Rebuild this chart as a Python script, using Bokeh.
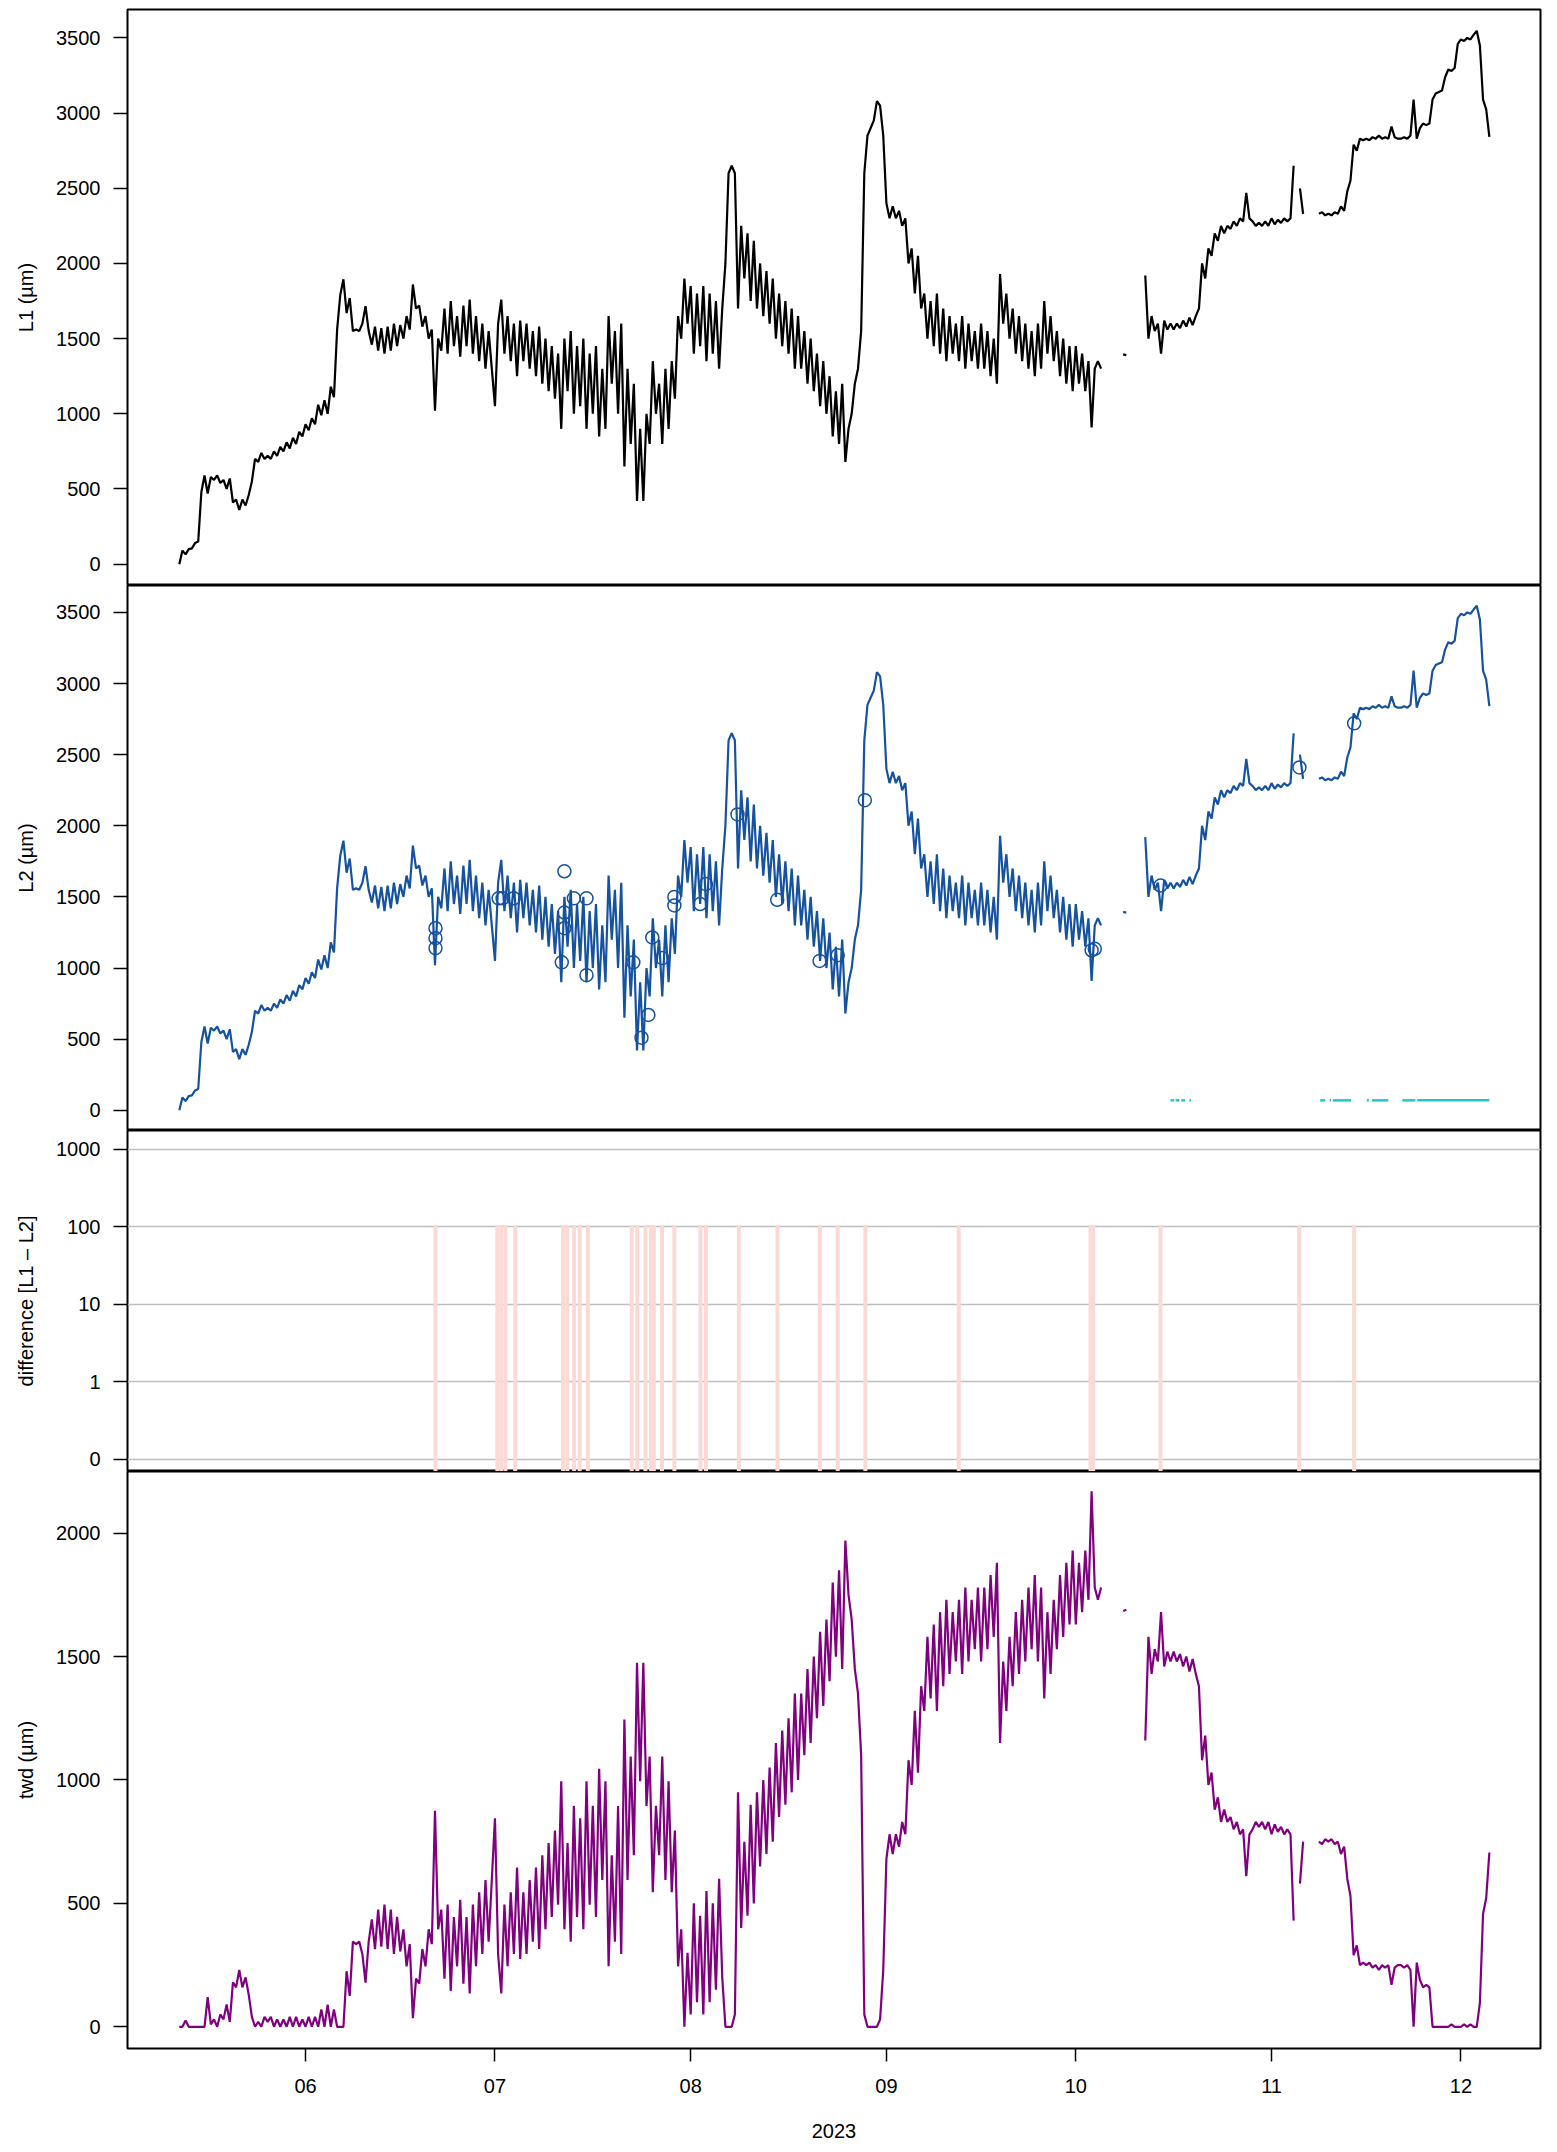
import numpy as np
import pandas as pd
from bokeh.plotting import figure
from bokeh.layouts import column
from bokeh.models import Range1d, FixedTicker
from bokeh.embed import file_html
from bokeh.resources import INLINE

nan = float("nan")

# ---- stem radius series L1 (µm), two readings per day (00h, 12h) ----
L1_may = [0, 90, 65, 100, 105, 140, 150, 480, 590, 470, 580, 560, 590, 540, 560, 500,
          570, 410, 430, 360, 430, 390, 460, 550, 700, 680, 740, 700, 720, 700, 750, 720,
          780, 750, 810, 770, 840, 800, 880, 850]
L1_jun = [930, 890, 970, 930, 1060, 990, 1090, 1000, 1180, 1110, 1560, 1790, 1895, 1670,
          1770, 1550, 1560, 1550, 1600, 1716, 1550, 1460, 1580, 1420, 1570, 1400, 1580, 1420,
          1600, 1450, 1590, 1500, 1650, 1560, 1860, 1700, 1720, 1580, 1650, 1500, 1560, 1020,
          1500, 1420, 1700, 1400, 1750, 1450, 1650, 1380, 1720, 1450, 1760, 1400, 1650, 1350,
          1600, 1300, 1550, 1300]
L1_jul = [1050, 1600, 1760, 1400, 1650, 1350, 1600, 1250, 1620, 1350, 1600, 1300, 1550, 1250,
          1580, 1200, 1500, 1150, 1450, 1100, 1400, 900, 1500, 1150, 1550, 1000, 1450, 1050,
          1500, 900, 1400, 1000, 1450, 850, 1300, 900, 1650, 1200, 1550, 1000, 1600, 650,
          1300, 800, 1200, 420, 900, 420, 1000, 800, 1350, 1000, 1200, 800, 1300, 900,
          1350, 1100, 1650, 1500, 1900, 1600]
L1_aug = [1850, 1400, 1800, 1450, 1850, 1350, 1800, 1400, 1750, 1300, 1700, 2000, 2600, 2650,
          2600, 1700, 2250, 1900, 2200, 1750, 2150, 1700, 2000, 1650, 1950, 1600, 1900, 1500,
          1800, 1450, 1750, 1400, 1700, 1300, 1650, 1300, 1550, 1200, 1500, 1150, 1400, 1050,
          1350, 1000, 1250, 850, 1150, 800, 1200, 680, 900, 1000, 1200, 1300, 1550, 2600,
          2850, 2900, 2950, 3080, 3050, 2850]
L1_sep = [2400, 2300, 2380, 2300, 2350, 2250, 2300, 2000, 2100, 1800, 2050, 1700, 1800, 1500,
          1750, 1450, 1800, 1400, 1700, 1350, 1650, 1400, 1600, 1350, 1650, 1300, 1600, 1350,
          1550, 1300, 1600, 1300, 1550, 1250, 1500, 1200, 1930, 1600, 1800, 1500, 1700, 1400,
          1650, 1350, 1600, 1300, 1550, 1250, 1600, 1300, 1750, 1400, 1650, 1350, 1550, 1250,
          1500, 1200, 1450, 1150]
L1_oct = [1450, 1200, 1400, 1150, 1350, 910, 1300, 1350, 1300, nan, nan, nan, nan, nan,
          nan, 1395, 1390, nan, nan, nan, nan, nan, 1920, 1500, 1650, 1550, 1600, 1400,
          1620, 1560, 1600, 1560, 1600, 1570, 1620, 1580, 1640, 1590, 1650, 1700, 2000, 1900,
          2100, 2050, 2200, 2150, 2250, 2200, 2250, 2230, 2280, 2250, 2300, 2280, 2470, 2300,
          2280, 2250, 2270, 2250, 2280, 2250]
L1_nov = [2300, 2260, 2290, 2270, 2300, 2280, 2300, 2650, nan, 2500, 2330, nan, nan, nan,
          nan, 2330, 2340, 2320, 2330, 2320, 2340, 2330, 2380, 2350, 2480, 2550, 2790, 2750,
          2830, 2820, 2830, 2820, 2840, 2830, 2850, 2830, 2840, 2830, 2910, 2840, 2830, 2830,
          2840, 2830, 2850, 3090, 2830, 2900, 2930, 2920, 2930, 3090, 3130, 3140, 3150, 3240,
          3290, 3280, 3300, 3460]
L1_dec = [3490, 3480, 3500, 3490, 3520, 3547, 3450, 3090, 3025, 2841]

L1 = L1_may + L1_jun + L1_jul + L1_aug + L1_sep + L1_oct + L1_nov + L1_dec
L2 = list(L1)  # second series follows the same trace
times = pd.date_range("2023-05-12 00:00", periods=len(L1), freq="12h")

# tree water deficit: distance below the running maximum of L1
s1 = pd.Series(L1, index=times, dtype=float)
twd = (s1.cummax() - s1).tolist()

# ---- flagged points in L2 ----
flag_times = ["2023-06-21 14:00", "2023-06-21 14:00", "2023-06-21 14:00",
              "2023-07-01 14:00", "2023-07-02 05:00", "2023-07-03 23:00",
              "2023-07-11 14:00", "2023-07-12 00:00", "2023-07-12 00:00", "2023-07-12 00:00",
              "2023-07-13 12:00", "2023-07-15 12:00", "2023-07-15 12:00",
              "2023-07-22 22:00", "2023-07-24 05:00", "2023-07-25 07:00", "2023-07-25 22:00",
              "2023-07-27 12:00", "2023-07-29 10:00", "2023-07-29 10:00",
              "2023-08-02 12:00", "2023-08-03 10:00", "2023-08-08 10:00", "2023-08-14 17:00",
              "2023-08-21 10:00", "2023-08-24 07:00", "2023-08-28 14:00",
              "2023-10-03 12:00", "2023-10-04 00:00", "2023-10-14 10:00",
              "2023-11-05 10:00", "2023-11-14 02:00"]
flag_values = [1280, 1210, 1140, 1490, 1490, 1490, 1040, 1680, 1390, 1280, 1490, 1490, 950,
               1040, 510, 670, 1215, 1070, 1500, 1440, 1450, 1590, 2080, 1480, 1050, 1090, 2180,
               1125, 1135, 1580, 2410, 2720]

# ---- cyan marker periods near the bottom of L2 panel ----
cyan_start = ["2023-10-16 00:00", "2023-10-16 19:00", "2023-10-17 17:00", "2023-10-19 00:00",
              "2023-11-08 17:00", "2023-11-10 05:00", "2023-11-10 17:00",
              "2023-11-16 02:00", "2023-11-16 22:00", "2023-11-21 17:00", "2023-11-24 02:00"]
cyan_end = ["2023-10-16 14:00", "2023-10-17 10:00", "2023-10-18 07:00", "2023-10-19 06:00",
            "2023-11-09 12:00", "2023-11-10 10:00", "2023-11-13 14:00",
            "2023-11-16 10:00", "2023-11-19 12:00", "2023-11-23 19:00", "2023-12-05 12:00"]
cyan_level = [70] * len(cyan_start)

# ---- difference L1 - L2 events ----
diff_times = ["2023-06-21 14:00", "2023-07-01 09:00", "2023-07-02 00:00", "2023-07-02 16:00",
              "2023-07-04 05:00", "2023-07-11 19:00", "2023-07-12 11:00", "2023-07-13 13:00",
              "2023-07-14 10:00", "2023-07-15 17:00", "2023-07-22 16:00", "2023-07-23 13:00",
              "2023-07-24 20:00", "2023-07-25 17:00", "2023-07-26 04:00", "2023-07-27 11:00",
              "2023-07-29 10:00", "2023-08-02 13:00", "2023-08-03 10:00", "2023-08-08 15:00",
              "2023-08-14 18:00", "2023-08-21 11:00", "2023-08-24 07:00", "2023-08-28 16:00",
              "2023-09-12 11:00", "2023-10-03 08:00", "2023-10-03 18:00", "2023-10-14 10:00",
              "2023-11-05 09:00", "2023-11-14 02:00"]
diff_values = [105, 105, 105, 105, 105, 105, 105, 105, 105, 105, 105, 105, 105, 105, 105,
               105, 105, 105, 105, 105, 105, 105, 105, 105, 105, 105, 105, 105, 105, 105]

diff_tick_values = [0, 1, 10, 100, 1000]
diff_tick_labels = ["0", "1", "10", "100", "1000"]

month_ticks = ["2023-06-01", "2023-07-01", "2023-08-01", "2023-09-01",
               "2023-10-01", "2023-11-01", "2023-12-01"]
month_labels = ["06", "07", "08", "09", "10", "11", "12"]

L_ticks = [0, 500, 1000, 1500, 2000, 2500, 3000, 3500]
twd_ticks = [0, 500, 1000, 1500, 2000]

# ---------------- styling ----------------
FONT = "Liberation Sans"
FS = "20px"
BLUE = "#1552A0"
PURPLE = "#800080"
CYAN = "#22C7CA"
PINK = "#FBDAD6"
GRIDC = "#BEBEBE"

def pseudo_log(v):
    return 0.0 if v <= 0 else np.log10(v) + 1.0

xr = Range1d(start=pd.Timestamp("2023-05-03 19:12"), end=pd.Timestamp("2023-12-13 14:24"))

def make_fig(frame_h, yr, top=0, bottom=0, with_x=False):
    p = figure(frame_width=1413, frame_height=frame_h, x_range=xr, y_range=yr,
               x_axis_type="datetime", x_axis_location="below" if with_x else None,
               output_backend="svg", toolbar_location=None,
               min_border_left=127, min_border_right=9,
               min_border_top=top, min_border_bottom=bottom)
    p.grid.visible = False
    p.outline_line_color = "black"
    p.outline_line_width = 2
    p.background_fill_color = "white"
    p.border_fill_color = "white"
    ax = p.yaxis[0]
    ax.axis_line_color = None
    ax.major_tick_line_width = 1.5
    ax.major_tick_line_color = "black"
    ax.major_tick_out = 14
    ax.major_tick_in = 0
    ax.minor_tick_line_color = None
    ax.major_label_standoff = 13
    ax.major_label_text_font = FONT
    ax.major_label_text_font_size = FS
    ax.major_label_text_color = "black"
    ax.axis_label_text_font = FONT
    ax.axis_label_text_font_size = FS
    ax.axis_label_text_font_style = "normal"
    ax.axis_label_text_color = "black"
    ax.axis_label_standoff = 16
    return p

# Panel 1: L1
p1 = make_fig(576, Range1d(-142, 3689), top=9)
p1.yaxis.ticker = FixedTicker(ticks=L_ticks)
p1.yaxis.axis_label = "L1 (µm)"
p1.line(times, L1, line_color="black", line_width=2.2)

# Panel 2: L2
p2 = make_fig(545, Range1d(-142, 3689))
p2.yaxis.ticker = FixedTicker(ticks=L_ticks)
p2.yaxis.axis_label = "L2 (µm)"
p2.line(times, L2, line_color=BLUE, line_width=2.2)
p2.scatter(pd.to_datetime(flag_times), flag_values, marker="circle", size=13,
           fill_color=None, line_color=BLUE, line_width=1.5)
p2.segment(x0=pd.to_datetime(cyan_start), y0=cyan_level, x1=pd.to_datetime(cyan_end),
           y1=cyan_level, line_color=CYAN, line_width=2.5)

# Panel 3: difference
yr3 = Range1d(-0.16, 4.24)
p3 = make_fig(341, yr3)
tick_pos = [pseudo_log(v) for v in diff_tick_values]
p3.yaxis.ticker = FixedTicker(ticks=tick_pos)
p3.yaxis.major_label_overrides = {tp: lab for tp, lab in zip(tick_pos, diff_tick_labels)}
p3.yaxis.axis_label = "difference [L1 \u2013 L2]"
p3.ygrid.visible = True
p3.ygrid.ticker = FixedTicker(ticks=tick_pos)
p3.ygrid.grid_line_color = GRIDC
p3.ygrid.grid_line_width = 1.5
dt = pd.to_datetime(diff_times)
p3.segment(x0=dt, y0=[yr3.start] * len(dt), x1=dt, y1=[pseudo_log(v) for v in diff_values],
           line_color=PINK, line_width=4)

# Panel 4: twd
p4 = make_fig(577, Range1d(-88, 2250), bottom=104, with_x=True)
p4.yaxis.ticker = FixedTicker(ticks=twd_ticks)
p4.yaxis.axis_label = "twd (µm)"
p4.line(times, twd, line_color=PURPLE, line_width=2.2)

mt = [pd.Timestamp(m).value / 1e6 for m in month_ticks]
xa = p4.xaxis[0]
xa.ticker = FixedTicker(ticks=mt)
xa.major_label_overrides = {t: lab for t, lab in zip(mt, month_labels)}
xa.axis_line_color = None
xa.major_tick_line_width = 1.5
xa.major_tick_line_color = "black"
xa.major_tick_out = 13
xa.major_tick_in = 0
xa.minor_tick_line_color = None
xa.major_label_standoff = 17
xa.major_label_text_font = FONT
xa.major_label_text_font_size = FS
xa.major_label_text_color = "black"
xa.axis_label = "2023"
xa.axis_label_text_font = FONT
xa.axis_label_text_font_size = FS
xa.axis_label_text_font_style = "normal"
xa.axis_label_text_color = "black"
xa.axis_label_standoff = 28

layout = column(p1, p2, p3, p4, spacing=0)
open("out.html", "w").write(file_html(layout, INLINE))
